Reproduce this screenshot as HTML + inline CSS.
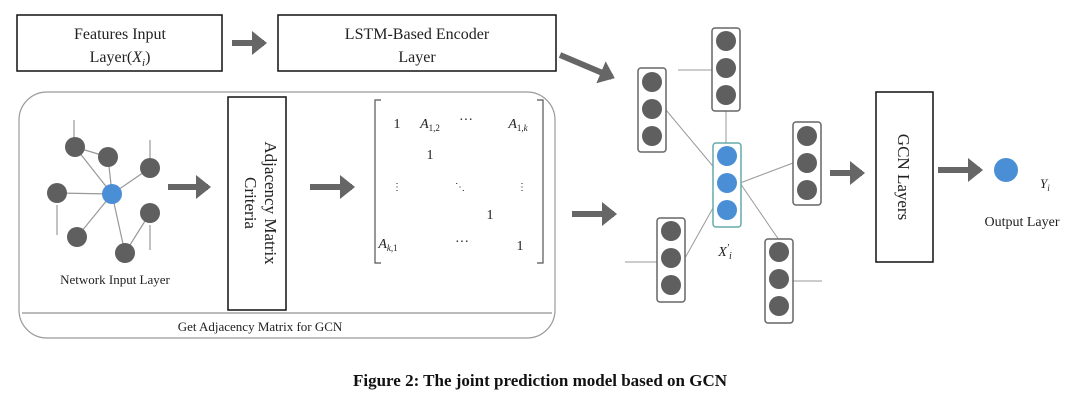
<!DOCTYPE html>
<html><head><meta charset="utf-8"><style>
body{margin:0;background:#fff;}
svg{display:block;font-family:"Liberation Serif",serif;}
</style></head><body>
<svg width="1080" height="411" viewBox="0 0 1080 411" xmlns="http://www.w3.org/2000/svg">
<defs>
<marker id="ah" markerWidth="4" markerHeight="4" refX="2" refY="2" orient="auto" markerUnits="strokeWidth"><path d="M0,0 L2.5,2 L0,4 Z" fill="#666"/></marker>
</defs>
<g fill="#fff" stroke="#111" stroke-width="1.5">
<rect x="17" y="15" width="205" height="56"/>
<rect x="278" y="15" width="278" height="56"/>
</g>
<text x="120" y="39" font-size="16" text-anchor="middle" fill="#222">Features Input</text>
<text x="120" y="62" font-size="16" text-anchor="middle" fill="#222">Layer(<tspan font-style="italic">X</tspan><tspan font-style="italic" font-size="11" dy="4">i</tspan><tspan dy="-4">)</tspan></text>
<text x="417" y="39" font-size="16" text-anchor="middle" fill="#222">LSTM-Based Encoder</text>
<text x="417" y="62" font-size="16" text-anchor="middle" fill="#222">Layer</text>
<g stroke="#666" stroke-width="6" fill="none" marker-end="url(#ah)">
<line x1="232" y1="43" x2="264" y2="43"/>
<line x1="560" y1="55" x2="612" y2="77"/>
<line x1="168" y1="187" x2="208" y2="187"/>
<line x1="310" y1="187" x2="352" y2="187"/>
<line x1="572" y1="214" x2="614" y2="214"/>
<line x1="830" y1="173" x2="862" y2="173"/>
<line x1="938" y1="170" x2="980" y2="170"/>
</g>
<rect x="19" y="92" width="536" height="246" rx="28" fill="none" stroke="#999" stroke-width="1.2"/>
<line x1="22" y1="313" x2="552" y2="313" stroke="#777" stroke-width="1"/>
<text x="260" y="331" font-size="13" text-anchor="middle" fill="#222">Get Adjacency Matrix for GCN</text>
<rect x="228" y="97" width="58" height="213" fill="#fff" stroke="#111" stroke-width="1.5"/>
<text transform="translate(257,203) rotate(90)" font-size="17" text-anchor="middle" fill="#222"><tspan x="0" y="-8">Adjacency Matrix</tspan><tspan x="0" y="12">Criteria</tspan></text>
<g stroke="#999" stroke-width="1.2">
<line x1="112" y1="194" x2="75" y2="147"/><line x1="75" y1="147" x2="108" y2="157"/>
<line x1="112" y1="194" x2="108" y2="157"/><line x1="112" y1="194" x2="150" y2="168"/>
<line x1="112" y1="194" x2="57" y2="193"/><line x1="112" y1="194" x2="77" y2="237"/>
<line x1="112" y1="194" x2="125" y2="253"/><line x1="125" y1="253" x2="150" y2="213"/>
<line x1="74" y1="120" x2="74" y2="140"/><line x1="150" y1="140" x2="150" y2="160"/>
<line x1="57" y1="205" x2="57" y2="235"/><line x1="150" y1="225" x2="150" y2="250"/>
</g>
<g fill="#5f5f5f">
<circle cx="75" cy="147" r="10"/><circle cx="108" cy="157" r="10"/><circle cx="150" cy="168" r="10"/>
<circle cx="57" cy="193" r="10"/><circle cx="150" cy="213" r="10"/><circle cx="77" cy="237" r="10"/><circle cx="125" cy="253" r="10"/>
</g>
<circle cx="112" cy="194" r="10" fill="#4a8fd6"/>
<text x="115" y="284" font-size="13" text-anchor="middle" fill="#222">Network Input Layer</text>
<g stroke="#555" stroke-width="1.2" fill="none">
<path d="M381,100 H375 V263 H381"/><path d="M537,100 H543 V263 H537"/>
</g>
<g font-size="14" fill="#222" text-anchor="middle">
<text x="397" y="128">1</text>
<text x="430" y="128" font-style="italic">A<tspan font-size="9" dy="3" font-style="normal">1,2</tspan></text>
<text x="466" y="124">···</text>
<text x="518" y="128" font-style="italic">A<tspan font-size="9" dy="3" font-style="normal">1,<tspan font-style="italic">k</tspan></tspan></text>
<text x="430" y="159">1</text>
<text x="397" y="190" font-size="10">⋮</text><text x="460" y="190" font-size="10">⋱</text><text x="522" y="190" font-size="10">⋮</text>
<text x="490" y="219">1</text>
<text x="388" y="248" font-style="italic">A<tspan font-size="9" dy="3" font-style="normal"><tspan font-style="italic">k</tspan>,1</tspan></text>
<text x="462" y="246">···</text>
<text x="520" y="250">1</text>
</g>
<g stroke="#999" stroke-width="1">
<line x1="666" y1="110" x2="727" y2="183"/><line x1="685" y1="258" x2="727" y2="183"/>
<line x1="726" y1="110" x2="726" y2="143"/><line x1="740" y1="183" x2="793" y2="163"/>
<line x1="740" y1="183" x2="779" y2="240"/><line x1="678" y1="70" x2="712" y2="70"/>
<line x1="625" y1="262" x2="657" y2="262"/><line x1="793" y1="281" x2="822" y2="281"/>
</g>
<g fill="#fff" stroke="#666" stroke-width="1.5">
<rect x="638" y="68" width="28" height="84" rx="3"/>
<rect x="712" y="28" width="28" height="83" rx="3"/>
<rect x="793" y="122" width="28" height="83" rx="3"/>
<rect x="657" y="218" width="28" height="84" rx="3"/>
<rect x="765" y="239" width="28" height="84" rx="3"/>
<rect x="713" y="143" width="28" height="84" rx="3" stroke="#6aa"/>
</g>
<g fill="#5f5f5f">
<circle cx="652" cy="82" r="10"/><circle cx="652" cy="109" r="10"/><circle cx="652" cy="136" r="10"/>
<circle cx="726" cy="41" r="10"/><circle cx="726" cy="68" r="10"/><circle cx="726" cy="95" r="10"/>
<circle cx="807" cy="136" r="10"/><circle cx="807" cy="163" r="10"/><circle cx="807" cy="190" r="10"/>
<circle cx="671" cy="231" r="10"/><circle cx="671" cy="258" r="10"/><circle cx="671" cy="285" r="10"/>
<circle cx="779" cy="252" r="10"/><circle cx="779" cy="279" r="10"/><circle cx="779" cy="306" r="10"/>
</g>
<g fill="#4a8fd6">
<circle cx="727" cy="156" r="10"/><circle cx="727" cy="183" r="10"/><circle cx="727" cy="210" r="10"/>
<circle cx="1006" cy="170" r="12"/>
</g>
<text x="725" y="256" font-size="14" font-style="italic" text-anchor="middle" fill="#222">X<tspan font-size="10" dy="-5">′</tspan><tspan font-size="10" dy="8">i</tspan></text>
<rect x="876" y="92" width="57" height="170" fill="#fff" stroke="#111" stroke-width="1.5"/>
<text transform="translate(898,177) rotate(90)" font-size="17" text-anchor="middle" fill="#222">GCN Layers</text>
<text x="1040" y="188" font-size="13" font-style="italic" fill="#222">Y<tspan font-size="9" dy="3">i</tspan></text>
<text x="1022" y="226" font-size="14" text-anchor="middle" fill="#222">Output Layer</text>
<text x="540" y="386" font-size="17" font-weight="bold" text-anchor="middle" fill="#111">Figure 2: The joint prediction model based on GCN</text>
</svg>
</body></html>
